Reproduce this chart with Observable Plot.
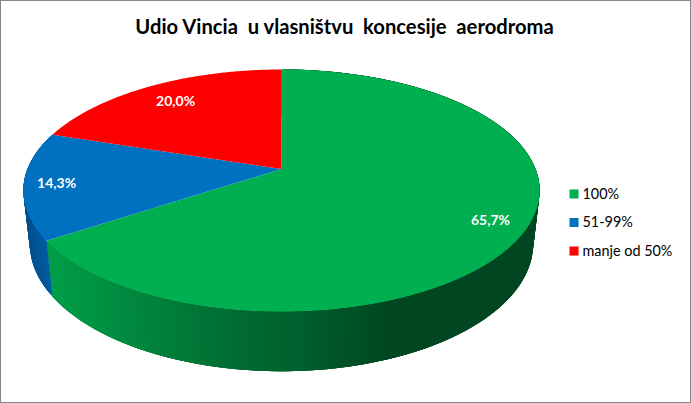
<!DOCTYPE html>
<html><head><meta charset="utf-8">
<script src="https://cdn.jsdelivr.net/npm/d3@7"></script>
<script src="https://cdn.jsdelivr.net/npm/@observablehq/plot@0.6"></script>
<style>html,body{margin:0;padding:0;background:#fff}svg{display:block}</style>
</head><body><div id="chart"></div>
<script>
const categories = ["100%", "51-99%", "manje od 50%"];
const shares = [65.7, 14.3, 20.0];
const shareLabels = ["65,7%", "14,3%", "20,0%"];
const colors = ["#00b050", "#0070c0", "#ff0000"];
const labelReach = [0.866, 0.875, 0.79];
const title = "Udio Vincia  u vlasništvu  koncesije  aerodroma";

const W = 691, H = 403;
const cx = 281, cy = 168.5, Rx = 254, Ry = 117.2, persp = 0.1777;
const depth = 52, shrink = 0.975;
const toRad = Math.PI / 180;
const total = d3.sum(shares);

function upper(a, f = 1) {
  const u = Math.sin(a * toRad) * f, v = -Math.cos(a * toRad) * f, w = 1 - persp * v;
  return [cx + Rx * u / w, cy + Ry * v / w];
}
function lower(a) {
  const u = Math.sin(a * toRad), v = -Math.cos(a * toRad), w = 1 - persp * v;
  return [cx + shrink * Rx * u / w, cy + (shrink * Ry * v + depth) / w];
}

let acc = 0;
const slices = shares.map((s, i) => {
  const start = acc / total * 360; acc += s;
  return {i, start, end: acc / total * 360};
});

const greenRamp = d3.scaleLinear().domain([50, 230, 300, 390, 540])
  .range(["#009e48", "#006d33", "#005f2d", "#004722", "#004722"]).clamp(true);
const blueRamp = d3.scaleLinear().domain([25, 50]).range(["#00518f", "#005fa8"]).clamp(true);

const wall = [];
let strip = 0;
slices.forEach(s => {
  if (s.i === 2) return;
  const step = 0.5;
  d3.range(s.start, s.end, step).forEach(a => {
    const b = Math.min(a + step + 1.5, s.end);
    const mid = upper(a + step / 2);
    const fill = s.i === 0 ? greenRamp(mid[0]) : blueRamp(mid[0]);
    [upper(a), upper(b), lower(b), lower(a)].forEach(p => wall.push({id: strip, x: p[0], y: p[1], fill}));
    strip++;
  });
});

const faces = slices.flatMap(s => {
  const arc = d3.range(s.start, s.end, 0.5).concat(s.end).map(a => upper(a));
  return [[cx, cy], ...arc, [cx, cy]].map(p => ({id: s.i, x: p[0], y: p[1], fill: colors[s.i]}));
});

const valueTexts = slices.map(s => {
  const p = upper((s.start + s.end) / 2, labelReach[s.i]);
  return {x: p[0], y: p[1], text: shareLabels[s.i]};
});

const legend = categories.map((c, i) => ({c, color: colors[i], y: 193.5 + i * 28.5}));

const chart = Plot.plot({
  width: W, height: H, margin: 0,
  x: {domain: [0, W], range: [0, W], axis: null},
  y: {domain: [0, H], range: [0, H], axis: null},
  style: {background: "#fff"},
  marks: [
    Plot.line(wall, {x: "x", y: "y", z: "id", fill: "fill", stroke: null, curve: "linear"}),
    Plot.line(faces, {x: "x", y: "y", z: "id", fill: "fill", stroke: null, curve: "linear"}),
    Plot.text(valueTexts, {x: "x", y: "y", text: "text", fill: "#fff", fontWeight: 700, fontSize: 14, fontFamily: "Lato"}),
    Plot.text([title], {x: () => 344, y: () => 27, text: d => d, fill: "#000", fontWeight: 700, fontSize: 20.2, fontFamily: "Lato"}),
    Plot.dot(legend, {x: () => 573.5, y: "y", symbol: "square", r: 5.1, fill: "color", stroke: null}),
    Plot.text(legend, {x: () => 582, y: "y", text: "c", fill: "#000", fontSize: 14.4, fontFamily: "Lato", textAnchor: "start"}),
    Plot.rect([0], {x1: () => 0.5, x2: () => 690.5, y1: () => 0.5, y2: () => 402.5, fill: "none", stroke: "#868686", strokeWidth: 1})
  ]
});
chart.style.whiteSpace = "pre";
document.getElementById("chart").append(chart);
</script></body></html>
